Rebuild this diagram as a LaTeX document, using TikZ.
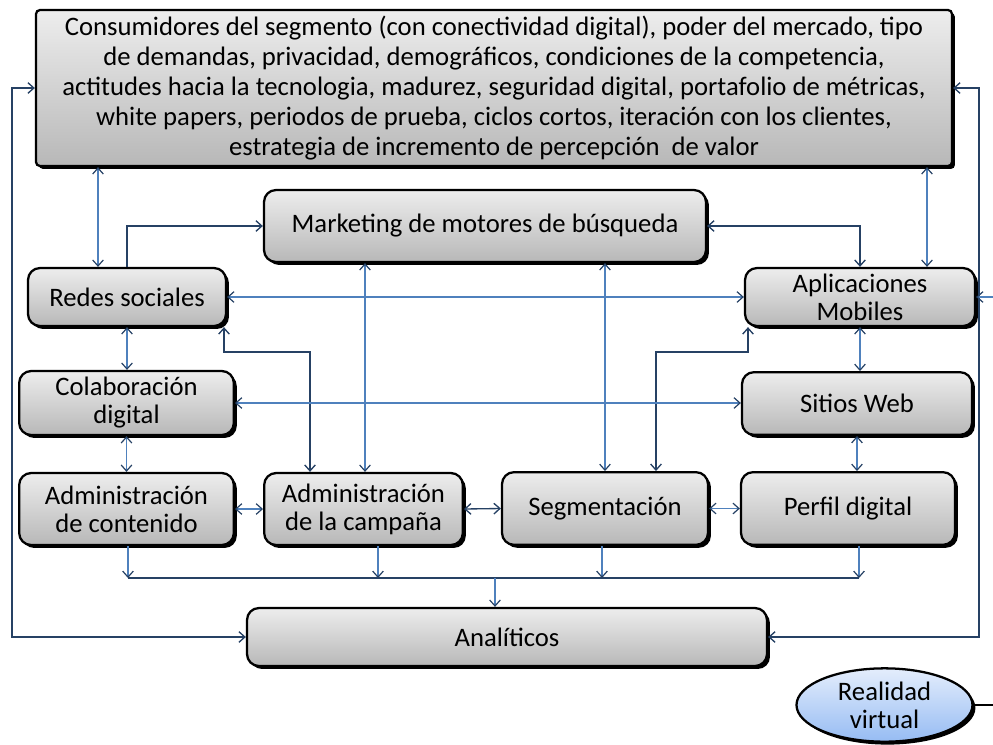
\documentclass[tikz,border=0pt]{standalone}
\usepackage{fontspec}
\setmainfont{Carlito}
\usetikzlibrary{arrows.meta,shadows,shapes.geometric}
\definecolor{lineblue}{RGB}{79,129,189}
\definecolor{navy}{RGB}{38,65,100}
\definecolor{rvtop}{RGB}{228,237,252}
\definecolor{rvbot}{RGB}{150,188,243}

\begin{document}
\begin{tikzpicture}[x=0.75pt,y=-0.75pt,
	>={Straight Barb[length=4.5pt,width=8pt,color=navy]},
	box/.style={draw=black,line width=1.7pt,rounded corners=9pt,
		top color=black!7,bottom color=black!28,
		drop shadow={shadow xshift=2.2pt,shadow yshift=-2.2pt,opacity=1,fill=black},
		align=center,inner sep=0pt,font=\fontsize{20}{21}\selectfont},
	ln/.style={lineblue,line width=0.9pt},
	dk/.style={navy,line width=1pt}]
	
	\useasboundingbox (0,0) rectangle (993,744);
	
	%------------------------------
	% Boxes
	%------------------------------
	\node[box,rounded corners=3pt,minimum width=687pt,minimum height=117pt,
	font=\fontsize{20}{22.5}\selectfont] (cons) at (494,88)
	{Consumidores del segmento (con conectividad digital), poder del mercado, tipo\\
		de demandas, privacidad, demográficos, condiciones de la competencia,\\
		actitudes hacia la tecnologia, madurez, seguridad digital, portafolio de métricas,\\
		white papers, periodos de prueba, ciclos cortos, iteración con los clientes,\\
		estrategia de incremento de percepción~ de valor};
	
	\node[box,minimum width=331.5pt,minimum height=54pt] (mkt) at (485,226) {Marketing de motores de búsqueda};
	\node[box,minimum width=148.5pt,minimum height=43.5pt] (redes) at (127,297) {Redes sociales};
	\node[box,minimum width=172.5pt,minimum height=43.5pt] (apps) at (860,297) {Aplicaciones\\Mobiles};
	\node[box,minimum width=161pt,minimum height=48pt] (colab) at (126.5,403) {Colaboración\\digital};
	\node[box,minimum width=172.5pt,minimum height=47pt] (sitios) at (857,403.5) {Sitios Web};
	\node[box,minimum width=161pt,minimum height=54pt] (admc) at (126.5,509) {Administración\\de contenido};
	\node[box,minimum width=149pt,minimum height=54pt] (admk) at (363.5,509) {Administración\\de la campaña};
	\node[box,minimum width=154.5pt,minimum height=54.5pt] (seg) at (605,508.5) {Segmentación};
	\node[box,minimum width=160.5pt,minimum height=54.5pt] (perfil) at (848,508.5) {Perfil digital};
	\node[box,minimum width=390pt,minimum height=43.5pt] (anal) at (507,637) {Analíticos};
	
	% Realidad virtual (ellipse, cut at the right edge)
	\node[box,ellipse,top color=rvtop,bottom color=rvbot,
	minimum width=132pt,minimum height=55pt] (rv) at (884.5,705) {Realidad\\virtual};
	
	%------------------------------
	% Helper coordinates
	%------------------------------
	\coordinate (xa) at (98,0);
	\coordinate (xb) at (927,0);
	\coordinate (xc) at (365,0);
	\coordinate (k1) at (224,352);
	\coordinate (k2) at (310,352);
	\coordinate (k3) at (656,352);
	\coordinate (k4) at (748,352);
	\coordinate (b1) at (128,578);
	\coordinate (b2) at (378,578);
	\coordinate (b3) at (602,578);
	\coordinate (b4) at (859,578);
	\coordinate (b5) at (495,578);
	\coordinate (lx) at (12,0);
	\coordinate (rx) at (979,0);
	\coordinate (ea) at (993,297);
	\coordinate (er) at (993,702);
	
	%------------------------------
	% Connectors
	%------------------------------
	\draw[ln,<->] (cons.south -| xa) -- (redes.north -| xa);
	\draw[ln,<->] (cons.south -| xb) -- (apps.north -| xb);
	\draw[dk,->] (redes.north) |- (mkt.west);
	\draw[dk,<->] (mkt.east) -| (apps.north);
	\draw[ln,<->] (redes.east) -- (apps.west);
	\draw[ln,<->] (mkt.south -| xc) -- (admk.north -| xc);
	\draw[ln,<->] (mkt.south -| seg.north) -- (seg.north);
	\draw[dk,<->] (redes.south -| k1) -- (k1) -- (k2) -- (admk.north -| k2);
	\draw[dk,<->] (seg.north -| k3) -- (k3) -- (k4) -- (apps.south -| k4);
	
	\draw[ln,<->] (redes.south) -- (colab.north -| redes.south);
	\draw[ln,<->] (colab.east) -- (colab.east -| sitios.west);
	\draw[ln,<->] (apps.south) -- (sitios.north -| apps.south);
	\draw[ln,<->] (colab.south) -- (admc.north);
	\draw[ln,<->] (sitios.south) -- (perfil.north -| sitios.south);
	
	\draw[ln,<->] (admc.east) -- (admk.west);
	\draw[dk,<->] (admk.east) -- (seg.west);
	\draw[ln,<->] (seg.east) -- (perfil.west);
	
	% Bus to Analiticos
	\foreach \b/\n in {b1/admc,b2/admk,b3/seg,b4/perfil}
	\draw[ln,->] (\n.south -| \b) -- (\b);
	\draw[dk] (b1) -- (b4);
	\draw[ln,->] (b5) -- (anal.north -| b5);
	
	% Outer loops
	\draw[dk,<->] (anal.west) -- (anal.west -| lx) |- (cons.west);
	\draw[dk,<->] (anal.east) -- (anal.east -| rx) |- (cons.east);
	\draw[ln,->] (ea) -- (apps.east);
	\draw[black,line width=1.5pt] (rv.east) -- (rv.east -| er);
	
\end{tikzpicture}
\end{document}
